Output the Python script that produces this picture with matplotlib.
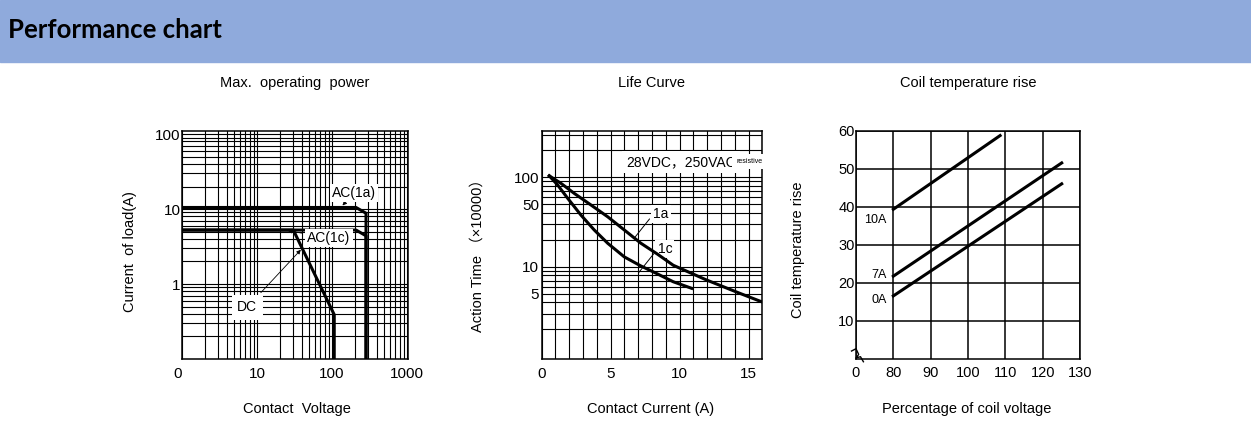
import matplotlib.pyplot as plt
import numpy as np
from matplotlib.patches import Rectangle

plt.rcParams['font.family'] = ['Liberation Sans', 'Noto Sans CJK SC', 'DejaVu Sans']

# --- Max. operating power (log-log) ---
ac1a_v = [1, 209, 284, 284]
ac1a_i = [10.5, 10.5, 8.8, 0.1]
ac1c_v = [1, 209, 284, 284]
ac1c_i = [5.25, 5.25, 4.4, 0.1]
dc_v = [1, 30.5, 107, 107]
dc_i = [5.25, 5.25, 0.39, 0.1]
power_xticks = [1, 10, 100, 1000]
power_xlabels = ['0', '10', '100', '1000']
power_yticks = [1, 10, 100]
power_ylabels = ['1', '10', '100']

# --- Life curve ---
life_1a_x = [0.55, 1.4, 2.36, 3.58, 4.79, 5.99, 7.2, 8.41, 9.54, 11.97, 14.38, 15.95]
life_1a_y = [104, 85.7, 66.2, 49.0, 36.2, 25.8, 18.3, 13.8, 10.4, 7.1, 5.04, 4.06]
life_1c_x = [0.55, 1.16, 1.89, 2.85, 3.81, 4.79, 5.99, 7.2, 8.34, 9.54, 10.88]
life_1c_y = [104, 82, 58.2, 37.8, 25.8, 18.3, 12.9, 10.2, 8.4, 6.8, 5.74]
life_xticks = [0, 5, 10, 15]
life_yticks = [5, 10, 50, 100]

# --- Coil temperature rise ---
coil_10a_x = [80, 108.6]
coil_10a_y = [39.4, 58.8]
coil_7a_x = [80, 125.1]
coil_7a_y = [21.8, 51.6]
coil_0a_x = [80, 125.1]
coil_0a_y = [16.6, 46.1]
coil_xticks = [70, 80, 90, 100, 110, 120, 130]
coil_xlabels = ['0', '80', '90', '100', '110', '120', '130']
coil_yticks = [10, 20, 30, 40, 50, 60]

W, H = 1251, 441
fig = plt.figure(figsize=(W / 100, H / 100), dpi=100)

# header band
fig.patches.append(Rectangle((0, 1 - 62 / H), 1, 62 / H, transform=fig.transFigure,
                             color='#8faadc', zorder=0))
fig.text(8 / W, 1 - 30 / H, 'Performance chart', fontsize=18.5, fontweight='bold',
         family=['Lato', 'DejaVu Sans'], va='center', ha='left')

white = dict(facecolor='white', edgecolor='none', pad=1.5)

#%% chart 1
ax1 = fig.add_axes([182 / W, 1 - 359 / H, 226 / W, 228 / H])
ax1.set_xscale('log')
ax1.set_yscale('log')
ax1.set_xlim(1, 1030)
ax1.set_ylim(0.1, 110)
ax1.grid(True, which='both', color='black', lw=0.8)
ax1.plot(ac1a_v, ac1a_i, color='black', lw=2.2)
ax1.plot(ac1c_v, ac1c_i, color='black', lw=2.2)
ax1.plot(dc_v, dc_i, color='black', lw=2.2)
ax1.set_xticks(power_xticks, power_xlabels)
ax1.set_yticks(power_yticks, power_ylabels)
ax1.xaxis.set_minor_formatter(plt.NullFormatter())
ax1.yaxis.set_minor_formatter(plt.NullFormatter())
ax1.tick_params(which='both', length=0, labelsize=11)
ax1.tick_params(axis='x', pad=6)
ax1.tick_params(axis='y', pad=1)
ax1.get_xticklabels()[0].set_horizontalalignment('right')
arrow = dict(arrowstyle='-|>', color='black', lw=0.6, mutation_scale=6)
ax1.annotate('AC(1a)', xy=(130, 10.5), xytext=(196, 16.3), ha='center', va='center',
             fontsize=10, bbox=white, arrowprops=arrow)
ax1.annotate('AC(1c)', xy=(23.6, 5.25), xytext=(91, 4.1), ha='center', va='center',
             fontsize=10, bbox=white, arrowprops=arrow)
ax1.annotate('DC', xy=(40.7, 3.05), xytext=(7.4, 0.49), ha='center', va='center',
             fontsize=10, bbox=dict(facecolor='white', edgecolor='none', pad=4),
             arrowprops=arrow)
ax1.set_title('Max.  operating  power', fontsize=10.5, pad=32)
ax1.set_xlabel('Contact  Voltage', fontsize=10.5)
ax1.set_ylabel('Current  of load(A)', fontsize=10.5)
ax1.xaxis.set_label_coords(0.51, -0.19)
ax1.yaxis.set_label_coords(-0.2, 0.47)

#%% chart 2
ax2 = fig.add_axes([541.7 / W, 1 - 359 / H, 220.6 / W, 228 / H])
ax2.set_yscale('log')
ax2.set_xlim(0, 16)
ax2.set_ylim(0.93, 330)
ax2.set_xticks(np.arange(0, 17, 1), minor=True)
ax2.grid(True, which='both', color='black', lw=0.8)
# curves above the white label boxes
ax2.plot(life_1a_x, life_1a_y, color='black', lw=2.2, zorder=5)
ax2.plot(life_1c_x, life_1c_y, color='black', lw=2.2, zorder=5)
ax2.set_xticks(life_xticks)
ax2.set_yticks(life_yticks, [str(v) for v in life_yticks])
ax2.yaxis.set_minor_formatter(plt.NullFormatter())
ax2.tick_params(which='both', length=0, labelsize=11)
ax2.tick_params(axis='x', pad=6)
ax2.tick_params(axis='y', pad=2)
ax2.text(6.15, 148, '28VDC，250VAC', fontsize=10, ha='left', va='center',
         bbox=dict(facecolor='white', edgecolor='none', pad=3))
ax2.text(14.1, 150, 'resistive', fontsize=5, ha='left', va='center',
         bbox=dict(facecolor='white', edgecolor='none', pad=3))
leader = dict(arrowstyle='-', color='black', lw=0.7, relpos=(0, 0.5))
ax2.annotate('1a', xy=(6.6, 19.9), xytext=(8.1, 38.8), ha='left', va='center',
             fontsize=10, bbox=white, arrowprops=leader)
ax2.annotate('1c', xy=(6.9, 8.1), xytext=(8.4, 15.8), ha='left', va='center',
             fontsize=10, bbox=white, arrowprops=leader)
ax2.set_title('Life Curve', fontsize=10.5, pad=32)
ax2.set_xlabel('Contact Current (A)', fontsize=10.5)
ax2.set_ylabel('Action Time （×10000）', fontsize=10.5)
ax2.xaxis.set_label_coords(0.495, -0.19)
ax2.yaxis.set_label_coords(-0.257, 0.47)

#%% chart 3
ax3 = fig.add_axes([856 / W, 1 - 359 / H, 224 / W, 228 / H])
ax3.set_xlim(70, 130)
ax3.set_ylim(0, 60)
ax3.grid(True, color='black', lw=1.1)
ax3.plot(coil_10a_x, coil_10a_y, color='black', lw=2.2)
ax3.plot(coil_7a_x, coil_7a_y, color='black', lw=2.2)
ax3.plot(coil_0a_x, coil_0a_y, color='black', lw=2.2)
ax3.set_xticks(coil_xticks, coil_xlabels)
ax3.set_yticks(coil_yticks)
ax3.tick_params(length=0, labelsize=10.5)
ax3.tick_params(axis='x', pad=5)
ax3.tick_params(axis='y', pad=1)
ax3.text(75.1, 36.7, '10A', fontsize=9, ha='center', va='center')
ax3.text(76.2, 22.0, '7A', fontsize=9, ha='center', va='center')
ax3.text(76.2, 15.5, '0A', fontsize=9, ha='center', va='center')
# axis break mark
ax3.plot([-0.02, 0.0, 0.012, 0.0, 0.02, 0.033], [0.035, 0.045, 0.02, 0.005, 0.01, -0.012],
         transform=ax3.transAxes, color='black', lw=1, clip_on=False)
ax3.set_title('Coil temperature rise', fontsize=10.5, pad=32)
ax3.set_xlabel('Percentage of coil voltage', fontsize=10.5)
ax3.set_ylabel('Coil temperature rise', fontsize=10.5)
ax3.xaxis.set_label_coords(0.496, -0.19)
ax3.yaxis.set_label_coords(-0.228, 0.48)

for ax in (ax1, ax2, ax3):
    for s in ax.spines.values():
        s.set_linewidth(1.1)

fig.savefig('out.png', dpi=100)
